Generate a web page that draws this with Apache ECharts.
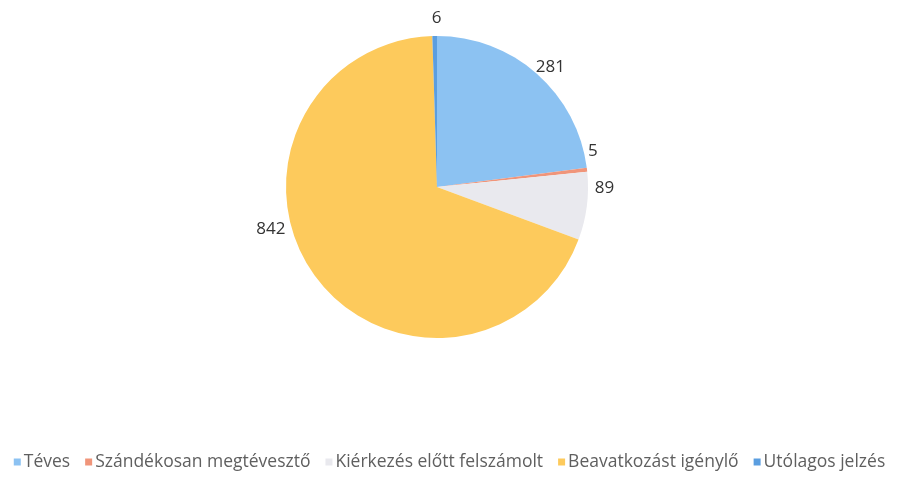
<!DOCTYPE html>
<html><head><meta charset="utf-8">
<script src="https://cdn.jsdelivr.net/npm/echarts@6/dist/echarts.min.js"></script>
<style>html,body{margin:0;padding:0;background:#fff}#c{width:899px;height:477px}</style>
</head><body><div id="c"></div>
<script>
const categories = ['Téves', 'Szándékosan megtévesztő', 'Kiérkezés előtt felszámolt', 'Beavatkozást igénylő', 'Utólagos jelzés'];
const values = [281, 5, 89, 842, 6];

// presentation only
const colors = ['#8cc2f2', '#f0957a', '#e9e9ee', '#fdca5c', '#5b9ee0'];
const labelNudge = [[-10, -2], [-10, -18], [-3, -19], [-19, -49], [12, -12]];

const chart = echarts.init(document.getElementById('c'));
chart.setOption({
  animation: false,
  color: colors,
  legend: {
    bottom: 1,
    left: 'center',
    itemWidth: 7,
    itemHeight: 7,
    itemGap: 15,
    icon: 'rect',
    textStyle: { fontFamily: 'Open Sans', fontSize: 17.5, color: '#5f5f5f', padding: [0, 0, 0, -2] },
    data: categories
  },
  series: [{
    type: 'pie',
    center: [437, 187],
    radius: 151,
    startAngle: 90,
    clockwise: true,
    label: {
      show: true,
      position: 'outside',
      formatter: '{c}',
      fontFamily: 'Open Sans',
      fontSize: 17,
      color: '#333'
    },
    labelLine: { show: false, length: 6, length2: 0 },
    labelLayout: function (p) {
      const n = labelNudge[p.dataIndex] || [0, 0];
      return { dx: n[0], dy: n[1] };
    },
    itemStyle: { borderWidth: 0 },
    emphasis: { disabled: true },
    data: categories.map((n, i) => ({ name: n, value: values[i] }))
  }]
});
</script></body></html>
